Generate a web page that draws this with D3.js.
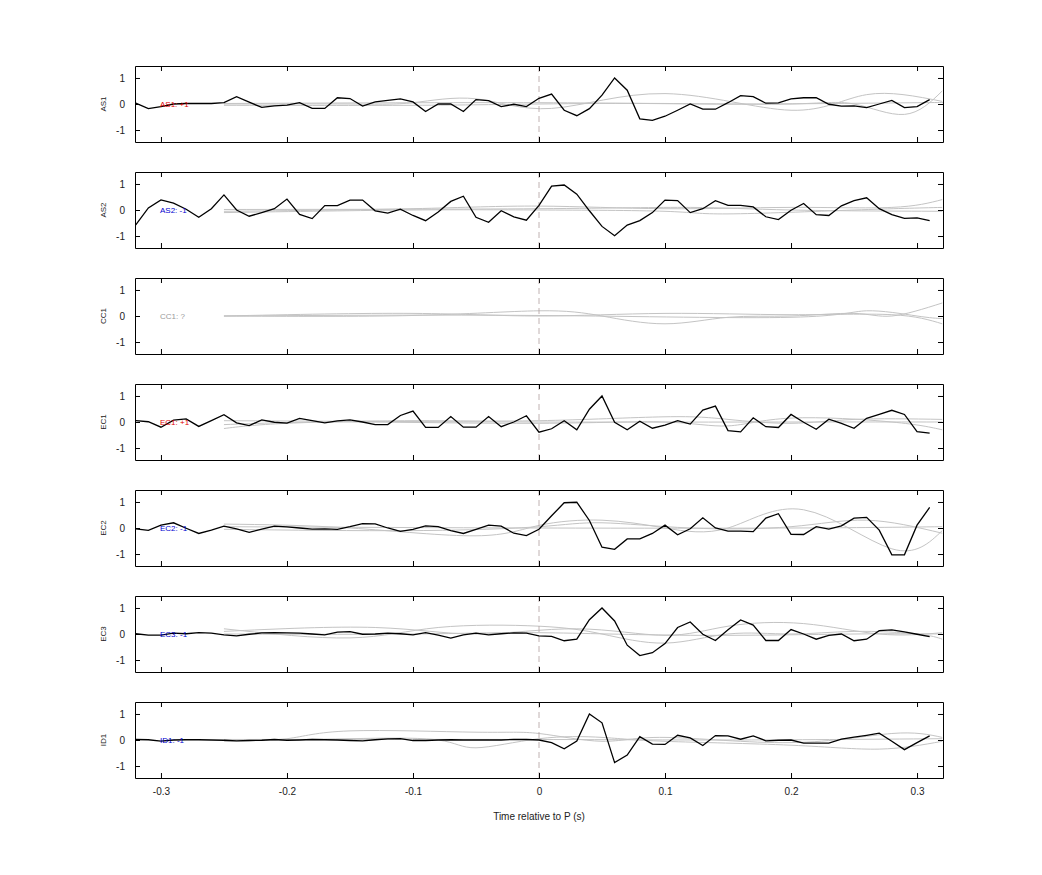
<!DOCTYPE html>
<html><head><meta charset="utf-8">
<script src="https://cdn.jsdelivr.net/npm/d3@7"></script>
<style>body{margin:0;background:#fff}svg{font-family:"Liberation Sans",Arial,sans-serif}</style>
</head><body><svg id="chart" width="1042" height="875"></svg>
<script>
// channel names and polarity labels
var channels = ['AS1','AS2','CC1','EC1','EC2','EC3','ID1'];
var polarity = ['+1','-1','?','+1','-1','-1','-1'];
var xTicks = [-0.3,-0.2,-0.1,0,0.1,0.2,0.3];
var yTicks = [-1,0,1];

// black traces, one sample per 10 ms from -0.32 to 0.31 s
var t0 = -0.32, dt = 0.01;
var blackAS1 = [0.03,-0.18,-0.1,0,0.02,0.02,0.02,0.05,0.28,0.07,-0.13,-0.07,-0.04,0.05,-0.17,-0.17,0.24,0.21,-0.08,0.08,0.14,0.2,0.08,-0.29,0,0,-0.29,0.17,0.13,-0.1,-0.01,-0.1,
  0.22,0.38,-0.24,-0.45,-0.18,0.34,1.0,0.53,-0.57,-0.63,-0.47,-0.24,0,-0.2,-0.2,0.05,0.32,0.28,0.03,0.04,0.2,0.24,0.24,-0.01,-0.08,-0.07,-0.14,0,0.14,-0.14,-0.1,0.17];
var blackAS2 = [-0.57,0.08,0.39,0.26,0.03,-0.28,0.05,0.58,0,-0.24,-0.1,0.05,0.42,-0.17,-0.33,0.17,0.17,0.38,0.38,-0.03,-0.12,0.03,-0.21,-0.41,-0.08,0.33,0.53,-0.28,-0.47,-0.03,-0.26,-0.39,
  0.18,0.92,0.96,0.61,-0.03,-0.63,-0.99,-0.58,-0.41,-0.1,0.38,0.36,-0.1,0.05,0.36,0.18,0.18,0.12,-0.26,-0.37,-0.01,0.25,-0.18,-0.21,0.16,0.36,0.47,0.05,-0.18,-0.32,-0.3,-0.41];
var blackCC1 = null;
var blackEC1 = [0.05,0.01,-0.2,0.07,0.12,-0.17,0.05,0.28,-0.03,-0.14,0.08,-0.01,-0.04,0.14,0.05,-0.03,0.04,0.08,0,-0.1,-0.1,0.25,0.42,-0.21,-0.21,0.21,-0.2,-0.2,0.21,-0.18,0,0.24,
  -0.39,-0.26,0.05,-0.3,0.49,1.0,-0.01,-0.3,0.03,-0.24,-0.12,0.05,-0.08,0.46,0.61,-0.33,-0.38,0.16,-0.18,-0.21,0.29,-0.01,-0.28,0.11,-0.05,-0.24,0.14,0.29,0.45,0.29,-0.37,-0.43];
var blackEC2 = [-0.03,-0.09,0.11,0.2,-0.01,-0.21,-0.08,0.07,-0.03,-0.17,-0.04,0.07,0.04,0,-0.04,-0.03,-0.05,0.05,0.17,0.16,0,-0.13,-0.05,0.08,0.05,-0.1,-0.21,-0.05,0.11,0.07,-0.2,-0.29,
  -0.05,0.47,0.97,0.99,0.29,-0.74,-0.82,-0.42,-0.42,-0.21,0.11,-0.26,-0.03,0.39,0,-0.12,-0.12,-0.14,0.38,0.55,-0.24,-0.25,0.05,-0.04,0.08,0.38,0.41,-0.08,-1.03,-1.03,0.11,0.79];
var blackEC3 = [0.01,-0.04,-0.04,0.03,0.01,0.05,0.03,-0.03,-0.07,-0.01,0.04,0.05,0.04,0.03,0,-0.03,0.07,0.09,-0.01,0,0.03,0.01,-0.03,0.05,-0.04,-0.16,-0.03,0.03,-0.03,0.01,0.04,0.03,
  -0.07,-0.09,-0.26,-0.2,0.55,1.0,0.5,-0.43,-0.83,-0.72,-0.37,0.25,0.46,-0.01,-0.25,0.16,0.54,0.34,-0.25,-0.25,0.17,0,-0.2,-0.05,0,-0.26,-0.2,0.13,0.16,0.08,-0.01,-0.1];
var blackID1 = [0.02,0.01,-0.04,0,0.01,0.01,0,-0.01,-0.03,-0.02,-0.01,0.02,-0.01,0,0.02,0.01,0,-0.02,-0.03,0.01,0.04,0.05,-0.02,-0.02,0,0.01,0,0,0,0,0.02,0.02,
  0,-0.1,-0.34,-0.04,1.0,0.66,-0.87,-0.58,0.13,-0.16,-0.17,0.18,0.08,-0.21,0.17,0.16,0.03,0.16,-0.03,-0.01,0,-0.12,-0.12,-0.12,0.03,0.11,0.18,0.26,-0.05,-0.37,-0.1,0.16];
var blacks = [blackAS1,blackAS2,blackCC1,blackEC1,blackEC2,blackEC3,blackID1];

// grey traces, [time, value] knots
var greyAS1 = [
  [[-0.25,0],[-0.15,0],[-0.1,0.05],[-0.05,0.2],[0.01,-0.17],[0.1,0.4],[0.2,-0.24],[0.26,0.36],[0.32,0.1]],
  [[-0.25,-0.05],[-0.1,-0.05],[0,0],[0.1,0.02],[0.2,0],[0.25,0],[0.29,-0.4],[0.32,0.5]],
  [[-0.25,0.02],[0,0.05],[0.15,0],[0.3,0.05],[0.32,0.05]]];
var greyAS2 = [
  [[-0.25,-0.05],[-0.1,0.05],[0,0.15],[0.1,0.05],[0.2,0.1],[0.28,0.1],[0.32,0.4]],
  [[-0.25,-0.1],[-0.1,0],[0,0],[0.1,-0.05],[0.15,-0.15],[0.25,0],[0.32,0.1]],
  [[-0.25,0.02],[0,0.05],[0.12,0.1],[0.2,0],[0.32,-0.05]]];
var greyCC1 = [
  [[-0.25,0],[-0.1,0.02],[0,0.2],[0.05,0],[0.1,-0.3],[0.15,-0.05],[0.2,0],[0.25,0.1],[0.28,0],[0.32,0.5]],
  [[-0.25,0],[-0.1,0.1],[0,0],[0.1,0.1],[0.2,0.05],[0.28,0.05],[0.32,-0.3]],
  [[-0.25,0],[0,0.02],[0.2,-0.05],[0.26,0.2],[0.3,0],[0.32,-0.1]]];
var greyEC1 = [
  [[-0.25,-0.25],[-0.2,-0.05],[-0.1,0.05],[0,0.05],[0.1,0.2],[0.15,0.1],[0.2,-0.05],[0.25,0.1],[0.32,0.1]],
  [[-0.25,-0.1],[-0.15,0],[0,-0.05],[0.1,0],[0.15,-0.15],[0.2,0.15],[0.28,0],[0.32,-0.3]],
  [[-0.25,0.05],[0,0],[0.2,0],[0.32,0]]];
var greyEC2 = [
  [[-0.25,0.15],[-0.15,0],[-0.05,-0.3],[0,0.1],[0.05,0.3],[0.1,0],[0.15,0],[0.21,0.7],[0.28,-0.8],[0.32,-0.1]],
  [[-0.25,-0.05],[-0.1,-0.1],[0,0.05],[0.05,0.2],[0.12,0],[0.2,0.05],[0.26,0.3],[0.32,-0.2]],
  [[-0.25,0.05],[0,0],[0.2,0],[0.32,0.05]]];
var greyEC3 = [
  [[-0.25,0.2],[-0.15,-0.15],[-0.08,0.25],[0,0.3],[0.05,0],[0.1,-0.35],[0.15,0],[0.2,0],[0.25,0.1],[0.3,0],[0.32,-0.2]],
  [[-0.25,0.1],[-0.13,0.25],[-0.05,0],[0.03,0.2],[0.1,-0.05],[0.15,0.3],[0.21,0.4],[0.27,0],[0.32,0.05]],
  [[-0.25,0],[-0.1,0],[0,0.05],[0.12,-0.05],[0.25,0],[0.32,0]]];
var greyID1 = [
  [[-0.25,0],[-0.2,0.05],[-0.15,0.35],[-0.05,0.3],[0,0.25],[0.05,-0.05],[0.1,0.1],[0.2,-0.1],[0.28,0.25],[0.32,0.1]],
  [[-0.25,-0.05],[-0.15,0.05],[-0.08,0],[-0.05,-0.3],[0,0.05],[0.05,0.1],[0.1,-0.05],[0.2,-0.2],[0.27,-0.35],[0.32,-0.05]],
  [[-0.25,0.02],[0,0.02],[0.15,0],[0.32,0.05]]];
var greys = [greyAS1,greyAS2,greyCC1,greyEC1,greyEC2,greyEC3,greyID1];

var svg = d3.select('#chart');
var left = 135, right = 943, top0 = 66, ph = 76, gap = 106;

var x = d3.scaleLinear().domain([-0.3206, 0.3206]).range([left, right]);
var polColor = {'+1':'#e00000','-1':'#0000d0','?':'#999'};
var plain = function(d){ return String(d); };

channels.forEach(function(name, i){
	var top = top0 + i*gap;
	var y = d3.scaleLinear().domain([-1.46, 1.46]).range([top+ph, top]);
	var g = svg.append('g');
	var clip = 'clip'+i;
	g.append('clipPath').attr('id',clip).append('rect')
		.attr('x',left).attr('y',top).attr('width',right-left).attr('height',ph);

	var plot = g.append('g').attr('clip-path','url(#'+clip+')');
	var line = d3.line().x(function(d){return x(d[0]);}).y(function(d){return y(d[1]);});

	greys[i].forEach(function(tr){
		plot.append('path').attr('d', line.curve(d3.curveNatural)(tr))
			.attr('fill','none').attr('stroke','#c4c4c4').attr('stroke-width',1);
	});

	plot.append('line').attr('x1',x(0)).attr('x2',x(0)).attr('y1',top).attr('y2',top+ph)
		.attr('stroke','#b0a0a0').attr('stroke-width',0.8).attr('stroke-dasharray','6,4');

	if(blacks[i]){
		var pts = blacks[i].map(function(v,k){return [t0+k*dt, v];});
		plot.append('path').attr('d', line.curve(d3.curveLinear)(pts))
			.attr('fill','none').attr('stroke','#000').attr('stroke-width',1.3);
	}

	g.append('text').attr('x',160).attr('y',y(0)+3).attr('font-size',8)
		.attr('fill',polColor[polarity[i]]).text(name+': '+polarity[i]);

	// axes with inward ticks
	g.append('g').attr('transform','translate('+left+',0)')
		.call(d3.axisLeft(y).tickValues(yTicks).tickSizeInner(-5).tickSizeOuter(0).tickPadding(10).tickFormat(plain));
	g.append('g').attr('transform','translate('+right+',0)')
		.call(d3.axisRight(y).tickValues(yTicks).tickSizeInner(-5).tickSizeOuter(0).tickFormat(''));
	g.append('g').attr('transform','translate(0,'+(top+ph)+')')
		.call(d3.axisBottom(x).tickValues(xTicks).tickSizeInner(-5).tickSizeOuter(0).tickPadding(10)
			.tickFormat(i === channels.length-1 ? plain : ''));
	g.append('g').attr('transform','translate(0,'+top+')')
		.call(d3.axisTop(x).tickValues(xTicks).tickSizeInner(-5).tickSizeOuter(0).tickFormat(''));
	g.selectAll('.domain').attr('stroke','#000');
	g.selectAll('.tick line').attr('stroke','#000');
	g.selectAll('.tick text').attr('font-size',10).attr('fill','#222')
		.attr('font-family','"Liberation Sans",Arial,sans-serif');

	g.append('text').attr('transform','translate(106,'+y(0)+') rotate(-90)')
		.attr('text-anchor','middle').attr('font-size',8).attr('fill','#222').text(name);
});

svg.append('text').attr('x',x(0)).attr('y',820).attr('text-anchor','middle')
	.attr('font-size',10).attr('fill','#222').text('Time relative to P (s)');
</script></body></html>
